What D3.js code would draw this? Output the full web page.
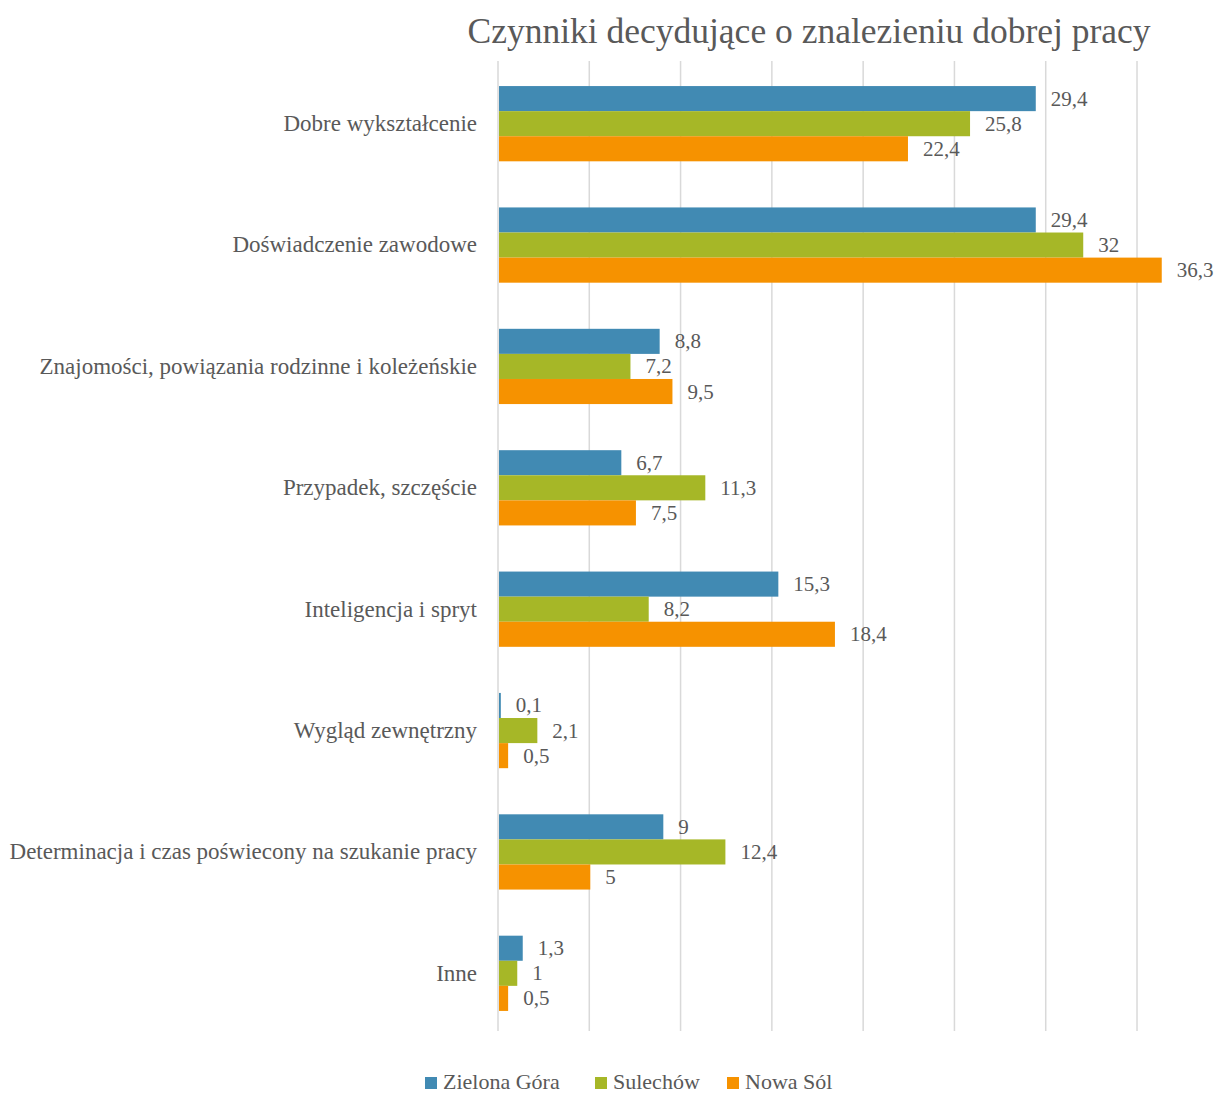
<!DOCTYPE html>
<html>
<head>
<meta charset="utf-8">
<script src="https://cdn.jsdelivr.net/npm/d3@7"></script>
<style>
  body { margin: 0; background: #fff; }
  text { font-family: "Liberation Serif", "DejaVu Serif", serif; fill: #595959; }
</style>
</head>
<body>
<div id="chart-area"></div>
<script>
// Czynniki decydujące o znalezieniu dobrej pracy
var categories = [
    "Dobre wykształcenie",
    "Doświadczenie zawodowe",
    "Znajomości, powiązania rodzinne i koleżeńskie",
    "Przypadek, szczęście",
    "Inteligencja i spryt",
    "Wygląd zewnętrzny",
    "Determinacja i czas poświecony na szukanie pracy",
    "Inne"
];
var seriesNames = ["Zielona Góra", "Sulechów", "Nowa Sól"];
var zielonaGora = [29.4, 29.4, 8.8, 6.7, 15.3, 0.1, 9, 1.3];
var sulechow = [25.8, 32, 7.2, 11.3, 8.2, 2.1, 12.4, 1];
var nowaSol = [22.4, 36.3, 9.5, 7.5, 18.4, 0.5, 5, 0.5];
var xTicks = [0, 5, 10, 15, 20, 25, 30, 35, 40];

var colors = ["#418ab3", "#a6b727", "#f69200"];

var W = 1219, H = 1093;
var margin = { left: 498, top: 63, bottom: 59 };
var plotH = H - margin.top - margin.bottom;

var svg = d3.select("#chart-area").append("svg")
    .attr("width", W)
    .attr("height", H);

var g = svg.append("g").attr("transform", "translate(" + margin.left + ", " + margin.top + ")");

var x = d3.scaleLinear().domain([0, 40]).range([0, 730.3]);
var y = d3.scaleBand().domain(categories).range([0, plotH]).paddingInner(0.38).paddingOuter(0.19);
var inner = d3.scaleBand().domain(seriesNames).range([0, y.bandwidth()]);

// gridlines
g.selectAll("line.grid")
    .data(xTicks)
    .enter().append("line")
    .attr("class", "grid")
    .attr("x1", (d) => x(d))
    .attr("x2", (d) => x(d))
    .attr("y1", -2)
    .attr("y2", plotH - 3)
    .attr("stroke", "#d9d9d9")
    .attr("stroke-width", 1.5);

// title
svg.append("text")
    .attr("x", 809)
    .attr("y", 43)
    .attr("text-anchor", "middle")
    .attr("font-size", "35.5px")
    .text("Czynniki decydujące o znalezieniu dobrej pracy");

// category labels
var yAxis = d3.axisLeft(y).tickSize(0).tickPadding(21);
var yAxisGroup = g.append("g").call(yAxis);
yAxisGroup.select(".domain").remove();
yAxisGroup.selectAll("text")
    .attr("font-size", "23px")
    .style("font-family", '"Liberation Serif", "DejaVu Serif", serif')
    .attr("fill", "#595959");

var data = [];
categories.forEach((c, i) => {
    [zielonaGora, sulechow, nowaSol].forEach((arr, s) => {
        data.push({ cat: c, series: seriesNames[s], value: arr[i], color: colors[s] });
    });
});

var fmt = (v) => String(v).replace(".", ",");

g.selectAll("rect.bar")
    .data(data)
    .enter().append("rect")
    .attr("class", "bar")
    .attr("x", x(0) + 1)
    .attr("y", (d) => y(d.cat) + inner(d.series))
    .attr("width", (d) => Math.max(x(d.value) - x(0), 0.5))
    .attr("height", inner.bandwidth())
    .attr("fill", (d) => d.color);

g.selectAll("text.val")
    .data(data)
    .enter().append("text")
    .attr("class", "val")
    .attr("x", (d) => x(d.value) + 16)
    .attr("y", (d) => y(d.cat) + inner(d.series) + inner.bandwidth() / 2 + 7)
    .attr("font-size", "21px")
    .text((d) => fmt(d.value));

// legend
var legendX = [425, 595, 727];
var legend = svg.append("g");
seriesNames.forEach((name, i) => {
    legend.append("rect")
        .attr("x", legendX[i])
        .attr("y", 1077)
        .attr("width", 12)
        .attr("height", 12)
        .attr("fill", colors[i]);
    legend.append("text")
        .attr("x", legendX[i] + 18)
        .attr("y", 1089)
        .attr("font-size", "22px")
        .text(name);
});
</script>
</body>
</html>
